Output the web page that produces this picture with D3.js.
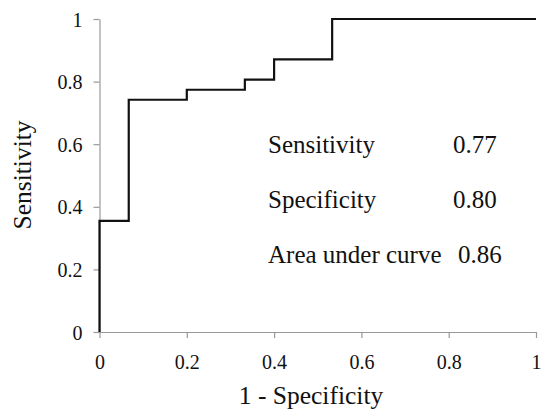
<!DOCTYPE html>
<html>
<head>
<meta charset="utf-8">
<script src="https://cdn.jsdelivr.net/npm/d3@7"></script>
<style>
  body { margin: 0; background: #fff; }
  svg text { font-family: "Liberation Serif", "Times New Roman", serif; fill: #111; }
</style>
</head>
<body>
<div id="chart"></div>
<script>
// ROC curve points (1 - specificity, sensitivity), step function
var fpr = [0, 0, 0.067, 0.067, 0.2, 0.2, 0.333, 0.333, 0.4, 0.4, 0.533, 0.533, 1];
var tpr = [0, 0.355, 0.355, 0.742, 0.742, 0.774, 0.774, 0.806, 0.806, 0.871, 0.871, 1, 1];

var tickValues = [0, 0.2, 0.4, 0.6, 0.8, 1];

var statLabels = ["Sensitivity", "Specificity", "Area under curve"];
var statValues = ["0.77", "0.80", "0.86"];

var width = 541, height = 411;
var serif = '"Liberation Serif", "Times New Roman", serif';

var svg = d3.select("#chart")
    .append("svg")
    .attr("width", width)
    .attr("height", height);

var x = d3.scaleLinear()
    .domain([0, 1])
    .range([99.5, 536]);

var y = d3.scaleLinear()
    .domain([0, 1])
    .range([332, 19]);

var fmt = function(d) { return d === 0 || d === 1 ? String(d) : d3.format(".1f")(d); };

// x axis
var xAxis = svg.append("g")
    .attr("transform", "translate(0," + y(0) + ")")
    .call(d3.axisBottom(x).tickValues(tickValues).tickFormat(fmt).tickSize(6).tickSizeOuter(0))
    .attr("font-family", serif)
    .attr("font-size", 20);
xAxis.selectAll("text")
    .attr("dy", null)
    .attr("y", 37)
    .attr("fill", "#111");

// y axis
var yAxis = svg.append("g")
    .attr("transform", "translate(" + x(0) + ",0)")
    .call(d3.axisLeft(y).tickValues(tickValues).tickFormat(fmt).tickSize(6).tickSizeOuter(0))
    .attr("font-family", serif)
    .attr("font-size", 20);
yAxis.selectAll("text")
    .attr("x", -17)
    .attr("dy", "0.35em")
    .attr("fill", "#111");

svg.selectAll(".domain, .tick line")
    .attr("stroke", "#999")
    .attr("stroke-width", 1.2);

// curve
var line = d3.line()
    .x(function(d, i) { return x(fpr[i]); })
    .y(function(d, i) { return y(tpr[i]); });

svg.append("path")
    .datum(fpr)
    .attr("d", line)
    .attr("fill", "none")
    .attr("stroke", "#111")
    .attr("stroke-width", 2.2);

// axis titles
svg.append("text")
    .attr("x", 311)
    .attr("y", 404)
    .attr("text-anchor", "middle")
    .style("font-size", "25.5px")
    .text("1 - Specificity");

svg.append("text")
    .attr("transform", "translate(31,175) rotate(-90)")
    .attr("text-anchor", "middle")
    .style("font-size", "25.5px")
    .text("Sensitivity");

// statistics block
var stats = svg.append("g");
stats.selectAll("text.lab")
    .data(statLabels)
    .enter().append("text")
    .attr("class", "lab")
    .attr("x", 268)
    .attr("y", function(d, i) { return 153 + i * 55; })
    .style("font-size", "25px")
    .text(function(d) { return d; });

stats.selectAll("text.val")
    .data(statValues)
    .enter().append("text")
    .attr("class", "val")
    .attr("x", function(d, i) { return i === 2 ? 458 : 453; })
    .attr("y", function(d, i) { return 153 + i * 55; })
    .style("font-size", "25px")
    .text(function(d) { return d; });
</script>
</body>
</html>
